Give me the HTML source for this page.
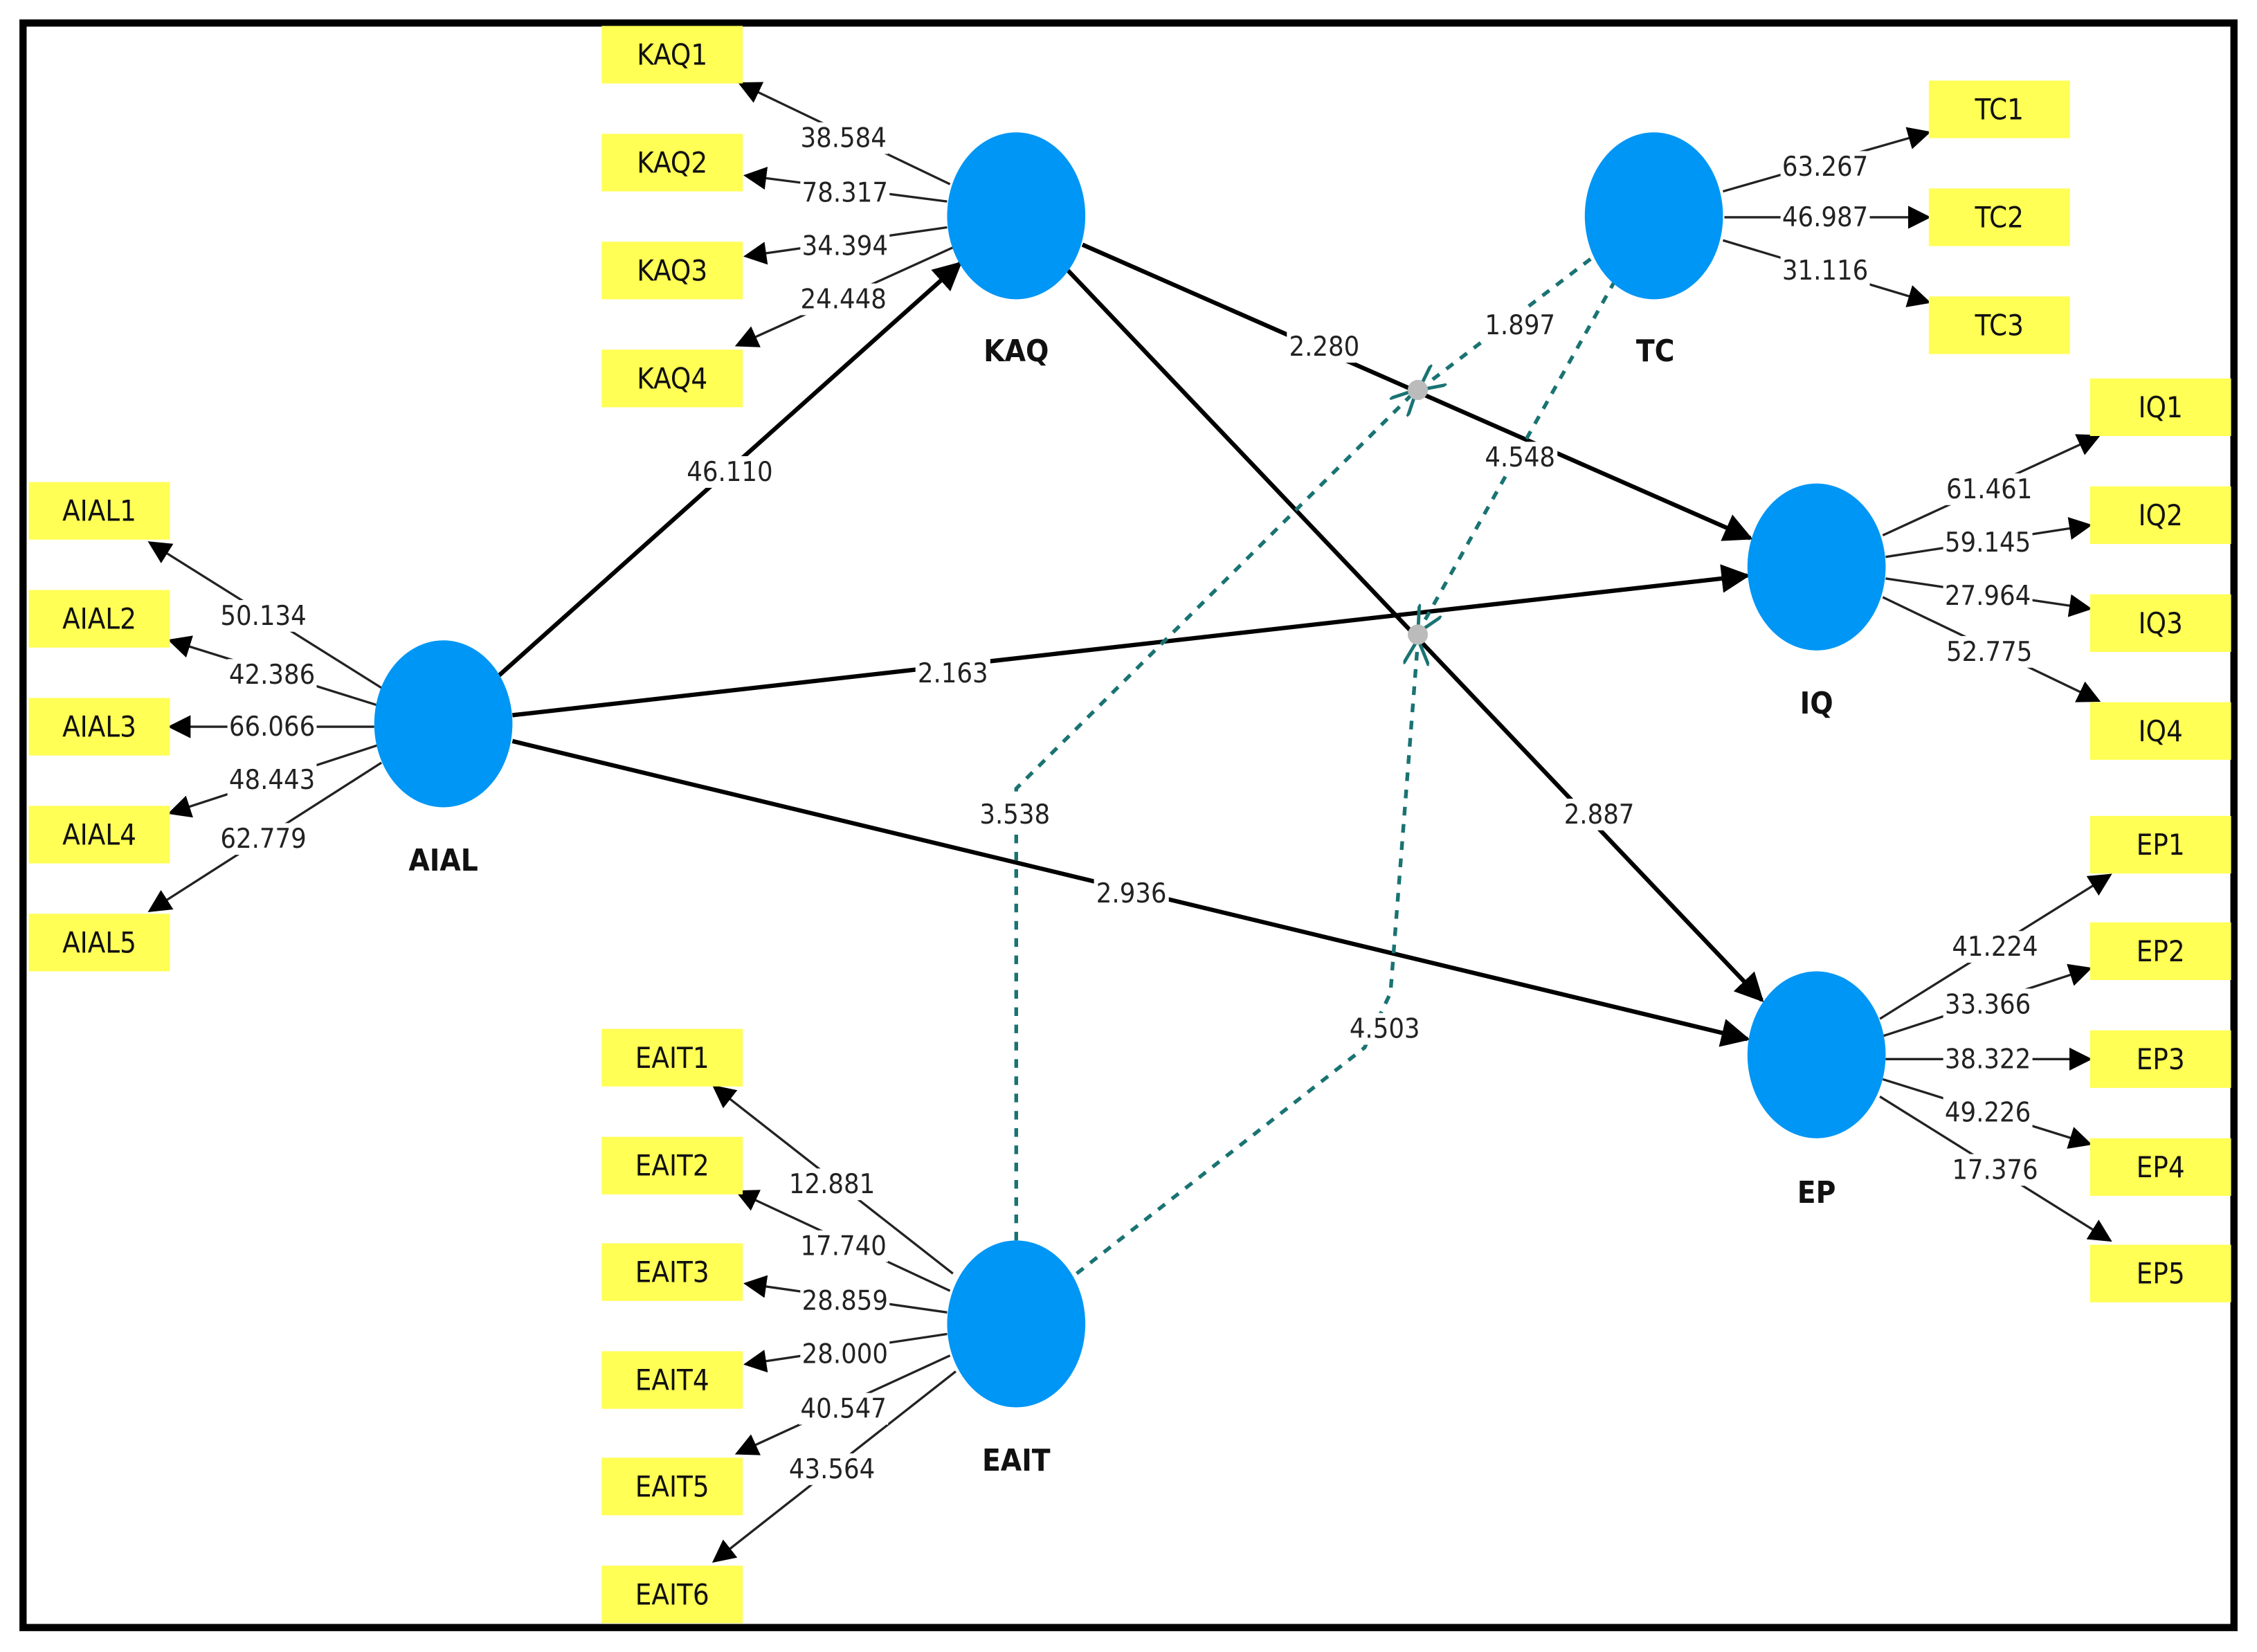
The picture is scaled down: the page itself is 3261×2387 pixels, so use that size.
<!DOCTYPE html>
<html><head><meta charset="utf-8"><style>
html,body{margin:0;padding:0;background:#fff;}
svg{display:block;}
text{font-family:"DejaVu Sans Condensed","Liberation Sans Narrow","Liberation Sans",sans-serif;}
.lb{font-size:19px;fill:#222;text-anchor:middle;dominant-baseline:central;}
.bx{fill:#ffff55;}
.bt{font-size:20px;fill:#111;text-anchor:middle;dominant-baseline:central;}
.nm{font-size:21px;font-weight:bold;fill:#111;text-anchor:middle;dominant-baseline:central;}
.ld{stroke:#222;stroke-width:1.6;fill:none;marker-end:url(#a);}
.st{stroke:#000;stroke-width:3;fill:none;marker-end:url(#b);}
.dsa{stroke:#1a7373;stroke-width:2.6;stroke-dasharray:6,6;fill:none;marker-end:url(#o);}
.nd{fill:#0096f5;}
</style></head><body>
<svg width="3261" height="2387" viewBox="0 0 1568 1148" preserveAspectRatio="none" xmlns="http://www.w3.org/2000/svg">
<defs>
<marker id="a" viewBox="0 0 10 10" refX="9" refY="5" markerWidth="16" markerHeight="16" markerUnits="userSpaceOnUse" orient="auto"><path d="M0,0L10,5L0,10z" fill="#000"/></marker>
<marker id="b" viewBox="0 0 10 10" refX="9" refY="5" markerWidth="20" markerHeight="20" markerUnits="userSpaceOnUse" orient="auto"><path d="M0,0L10,5L0,10z" fill="#000"/></marker>
<marker id="o" viewBox="0 0 10 10" refX="9" refY="5" markerWidth="18" markerHeight="18" markerUnits="userSpaceOnUse" orient="auto"><path d="M0,0L10,5L0,10" fill="none" stroke="#1a7373" stroke-width="1.3"/></marker>
</defs>
<rect x="0" y="0" width="1568" height="1148" fill="#fff"/>
<rect x="16" y="16" width="1536" height="1115" fill="none" stroke="#000" stroke-width="5"/>

<line class="st" x1="346" y1="470" x2="667" y2="183"/>
<line class="st" x1="356" y1="497" x2="1214" y2="400"/>
<line class="st" x1="356" y1="515" x2="1214" y2="722"/>
<line class="st" x1="752" y1="170" x2="1216" y2="374"/>
<line class="st" x1="742" y1="188" x2="1224" y2="695"/>

<polyline class="dsa" points="706,862 706,548 983,272"/>
<line class="dsa" x1="1105" y1="180" x2="987" y2="270"/>
<line class="dsa" x1="1122" y1="195" x2="986" y2="438"/>
<polyline class="dsa" points="748,885 948,728 966,690 985,446"/>
<circle cx="985" cy="271" r="7" fill="#bbb"/>
<circle cx="985" cy="441" r="7" fill="#bbb"/>

<g>
<line class="ld" x1="660" y1="128" x2="514" y2="58"/>
<line class="ld" x1="658" y1="140" x2="518" y2="122"/>
<line class="ld" x1="658" y1="158" x2="518" y2="178"/>
<line class="ld" x1="662" y1="172" x2="512" y2="240"/>
<line class="ld" x1="265" y1="478" x2="104" y2="377"/>
<line class="ld" x1="262" y1="490" x2="118" y2="445"/>
<line class="ld" x1="260" y1="505" x2="118" y2="505"/>
<line class="ld" x1="262" y1="518" x2="118" y2="565"/>
<line class="ld" x1="265" y1="530" x2="104" y2="633"/>
<line class="ld" x1="662" y1="885" x2="496" y2="755"/>
<line class="ld" x1="660" y1="897" x2="512" y2="828"/>
<line class="ld" x1="658" y1="912" x2="518" y2="892"/>
<line class="ld" x1="658" y1="927" x2="518" y2="948"/>
<line class="ld" x1="660" y1="942" x2="512" y2="1010"/>
<line class="ld" x1="664" y1="953" x2="496" y2="1085"/>
<line class="ld" x1="1197" y1="133" x2="1340" y2="92"/>
<line class="ld" x1="1198" y1="151" x2="1340" y2="151"/>
<line class="ld" x1="1197" y1="167" x2="1340" y2="210"/>
<line class="ld" x1="1308" y1="372" x2="1458" y2="303"/>
<line class="ld" x1="1310" y1="387" x2="1452" y2="365"/>
<line class="ld" x1="1310" y1="402" x2="1452" y2="423"/>
<line class="ld" x1="1308" y1="415" x2="1458" y2="487"/>
<line class="ld" x1="1306" y1="708" x2="1466" y2="608"/>
<line class="ld" x1="1308" y1="720" x2="1452" y2="673"/>
<line class="ld" x1="1310" y1="736" x2="1452" y2="736"/>
<line class="ld" x1="1308" y1="750" x2="1452" y2="795"/>
<line class="ld" x1="1306" y1="762" x2="1466" y2="862"/>
</g>

<ellipse class="nd" cx="706" cy="150" rx="48" ry="58"/>
<ellipse class="nd" cx="1149" cy="150" rx="48" ry="58"/>
<ellipse class="nd" cx="308" cy="503" rx="48" ry="58"/>
<ellipse class="nd" cx="1262" cy="394" rx="48" ry="58"/>
<ellipse class="nd" cx="1262" cy="733" rx="48" ry="58"/>
<ellipse class="nd" cx="706" cy="920" rx="48" ry="58"/>
<text class="nm" x="706" y="244">KAQ</text>
<text class="nm" x="1150" y="244">TC</text>
<text class="nm" x="308" y="598">AIAL</text>
<text class="nm" x="1262" y="489">IQ</text>
<text class="nm" x="1262" y="829">EP</text>
<text class="nm" x="706" y="1015">EAIT</text>

<g>
<rect class="bx" x="418" y="18" width="98" height="40"/><text class="bt" x="467" y="38">KAQ1</text>
<rect class="bx" x="418" y="93" width="98" height="40"/><text class="bt" x="467" y="113">KAQ2</text>
<rect class="bx" x="418" y="168" width="98" height="40"/><text class="bt" x="467" y="188">KAQ3</text>
<rect class="bx" x="418" y="243" width="98" height="40"/><text class="bt" x="467" y="263">KAQ4</text>
<rect class="bx" x="20" y="335" width="98" height="40"/><text class="bt" x="69" y="355">AIAL1</text>
<rect class="bx" x="20" y="410" width="98" height="40"/><text class="bt" x="69" y="430">AIAL2</text>
<rect class="bx" x="20" y="485" width="98" height="40"/><text class="bt" x="69" y="505">AIAL3</text>
<rect class="bx" x="20" y="560" width="98" height="40"/><text class="bt" x="69" y="580">AIAL4</text>
<rect class="bx" x="20" y="635" width="98" height="40"/><text class="bt" x="69" y="655">AIAL5</text>
<rect class="bx" x="418" y="715" width="98" height="40"/><text class="bt" x="467" y="735">EAIT1</text>
<rect class="bx" x="418" y="790" width="98" height="40"/><text class="bt" x="467" y="810">EAIT2</text>
<rect class="bx" x="418" y="864" width="98" height="40"/><text class="bt" x="467" y="884">EAIT3</text>
<rect class="bx" x="418" y="939" width="98" height="40"/><text class="bt" x="467" y="959">EAIT4</text>
<rect class="bx" x="418" y="1013" width="98" height="40"/><text class="bt" x="467" y="1033">EAIT5</text>
<rect class="bx" x="418" y="1088" width="98" height="40"/><text class="bt" x="467" y="1108">EAIT6</text>
<rect class="bx" x="1340" y="56" width="98" height="40"/><text class="bt" x="1389" y="76">TC1</text>
<rect class="bx" x="1340" y="131" width="98" height="40"/><text class="bt" x="1389" y="151">TC2</text>
<rect class="bx" x="1340" y="206" width="98" height="40"/><text class="bt" x="1389" y="226">TC3</text>
<rect class="bx" x="1452" y="263" width="98" height="40"/><text class="bt" x="1501" y="283">IQ1</text>
<rect class="bx" x="1452" y="338" width="98" height="40"/><text class="bt" x="1501" y="358">IQ2</text>
<rect class="bx" x="1452" y="413" width="98" height="40"/><text class="bt" x="1501" y="433">IQ3</text>
<rect class="bx" x="1452" y="488" width="98" height="40"/><text class="bt" x="1501" y="508">IQ4</text>
<rect class="bx" x="1452" y="567" width="98" height="40"/><text class="bt" x="1501" y="587">EP1</text>
<rect class="bx" x="1452" y="641" width="98" height="40"/><text class="bt" x="1501" y="661">EP2</text>
<rect class="bx" x="1452" y="716" width="98" height="40"/><text class="bt" x="1501" y="736">EP3</text>
<rect class="bx" x="1452" y="791" width="98" height="40"/><text class="bt" x="1501" y="811">EP4</text>
<rect class="bx" x="1452" y="865" width="98" height="40"/><text class="bt" x="1501" y="885">EP5</text>
</g>

<!-- label backgrounds -->
<g fill="#fff">
<rect x="555" y="85" width="62" height="22"/>
<rect x="556" y="123" width="62" height="22"/>
<rect x="556" y="160" width="62" height="22"/>
<rect x="555" y="197" width="62" height="22"/>
<rect x="152" y="417" width="62" height="22"/>
<rect x="158" y="458" width="62" height="22"/>
<rect x="158" y="494" width="62" height="22"/>
<rect x="158" y="531" width="62" height="22"/>
<rect x="152" y="572" width="62" height="22"/>
<rect x="547" y="812" width="62" height="22"/>
<rect x="555" y="855" width="62" height="22"/>
<rect x="556" y="893" width="62" height="22"/>
<rect x="556" y="930" width="62" height="22"/>
<rect x="555" y="968" width="62" height="22"/>
<rect x="547" y="1010" width="62" height="22"/>
<rect x="1237" y="105" width="62" height="22"/>
<rect x="1237" y="140" width="62" height="22"/>
<rect x="1237" y="177" width="62" height="22"/>
<rect x="1351" y="329" width="62" height="22"/>
<rect x="1350" y="366" width="62" height="22"/>
<rect x="1350" y="403" width="62" height="22"/>
<rect x="1351" y="442" width="62" height="22"/>
<rect x="1355" y="647" width="62" height="22"/>
<rect x="1350" y="687" width="62" height="22"/>
<rect x="1350" y="725" width="62" height="22"/>
<rect x="1350" y="762" width="62" height="22"/>
<rect x="1355" y="802" width="62" height="22"/>
<rect x="476" y="317" width="62" height="22"/>
<rect x="636" y="457" width="52" height="22"/>
<rect x="760" y="610" width="52" height="22"/>
<rect x="894" y="230" width="52" height="22"/>
<rect x="1085" y="555" width="52" height="22"/>
<rect x="679" y="555" width="52" height="22"/>
<rect x="1030" y="215" width="52" height="22"/>
<rect x="1030" y="307" width="52" height="22"/>
<rect x="936" y="704" width="52" height="22"/>
</g>
<g>
<text class="lb" x="586" y="96">38.584</text>
<text class="lb" x="587" y="134">78.317</text>
<text class="lb" x="587" y="171">34.394</text>
<text class="lb" x="586" y="208">24.448</text>
<text class="lb" x="183" y="428">50.134</text>
<text class="lb" x="189" y="469">42.386</text>
<text class="lb" x="189" y="505">66.066</text>
<text class="lb" x="189" y="542">48.443</text>
<text class="lb" x="183" y="583">62.779</text>
<text class="lb" x="578" y="823">12.881</text>
<text class="lb" x="586" y="866">17.740</text>
<text class="lb" x="587" y="904">28.859</text>
<text class="lb" x="587" y="941">28.000</text>
<text class="lb" x="586" y="979">40.547</text>
<text class="lb" x="578" y="1021">43.564</text>
<text class="lb" x="1268" y="116">63.267</text>
<text class="lb" x="1268" y="151">46.987</text>
<text class="lb" x="1268" y="188">31.116</text>
<text class="lb" x="1382" y="340">61.461</text>
<text class="lb" x="1381" y="377">59.145</text>
<text class="lb" x="1381" y="414">27.964</text>
<text class="lb" x="1382" y="453">52.775</text>
<text class="lb" x="1386" y="658">41.224</text>
<text class="lb" x="1381" y="698">33.366</text>
<text class="lb" x="1381" y="736">38.322</text>
<text class="lb" x="1381" y="773">49.226</text>
<text class="lb" x="1386" y="813">17.376</text>
<text class="lb" x="507" y="328">46.110</text>
<text class="lb" x="662" y="468">2.163</text>
<text class="lb" x="786" y="621">2.936</text>
<text class="lb" x="920" y="241">2.280</text>
<text class="lb" x="1111" y="566">2.887</text>
<text class="lb" x="705" y="566">3.538</text>
<text class="lb" x="1056" y="226">1.897</text>
<text class="lb" x="1056" y="318">4.548</text>
<text class="lb" x="962" y="715">4.503</text>
</g>
</svg>
</body></html>
